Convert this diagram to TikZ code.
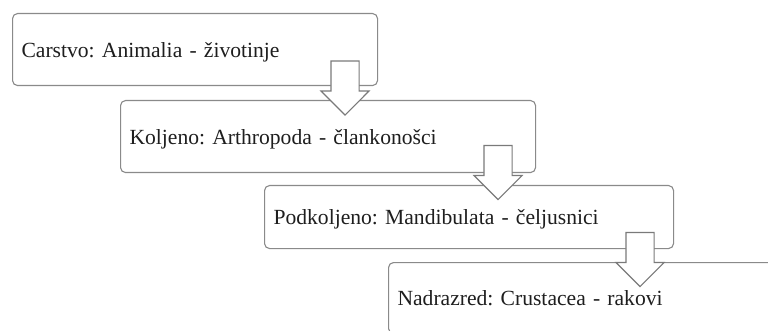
\documentclass[tikz,border=0pt]{standalone}
\usepackage{fontspec}
\setmainfont{Liberation Serif}
\frenchspacing
\usetikzlibrary{shapes.arrows}
\definecolor{boxgray}{HTML}{8A8A8A}
\definecolor{arrgray}{HTML}{7A7A7A}
\definecolor{txt}{HTML}{1E1E1E}
\begin{document}
\begin{tikzpicture}[x=1pt,y=-1pt,
  box/.style={draw=boxgray, line width=1.1pt, rounded corners=5pt, fill=white,
    anchor=north west, inner xsep=9pt, inner ysep=0pt, align=left,
    text height=15pt, text depth=0pt, text=txt,
    font=\fontsize{21.6}{26}\selectfont\frenchspacing},
  downarrow/.style={single arrow, draw=arrgray, fill=white, line width=1.1pt,
    shape border rotate=270, minimum height=54pt, minimum width=48pt,
    single arrow head extend=10pt, single arrow head indent=0pt,
    text height=0pt, text depth=0pt, text width=0pt, inner sep=13.5pt}]
\clip (0,0) rectangle (768,331);
\fill[white] (0,0) rectangle (768,331);
\node[box, minimum width=365pt, minimum height=72pt, text width=347pt] (b1) at (12,13) {Carstvo: Animalia - životinje};
\node[box, minimum width=415pt, minimum height=72pt, text width=397pt] (b2) at (120,100) {Koljeno: Arthropoda - člankonošci};
\node[box, minimum width=409pt, minimum height=63pt, text width=391pt] (b3) at (264,185) {Podkoljeno: Mandibulata - čeljusnici};
\node[box, minimum width=420pt, minimum height=71pt, text width=402pt] (b4) at (388,262) {Nadrazred: Crustacea - rakovi};
\node[downarrow] (a1) at (345,81) {};
\node[downarrow] (a2) at (498,165.5) {};
\node[downarrow] (a3) at (640,252.5) {};
\end{tikzpicture}
\end{document}
